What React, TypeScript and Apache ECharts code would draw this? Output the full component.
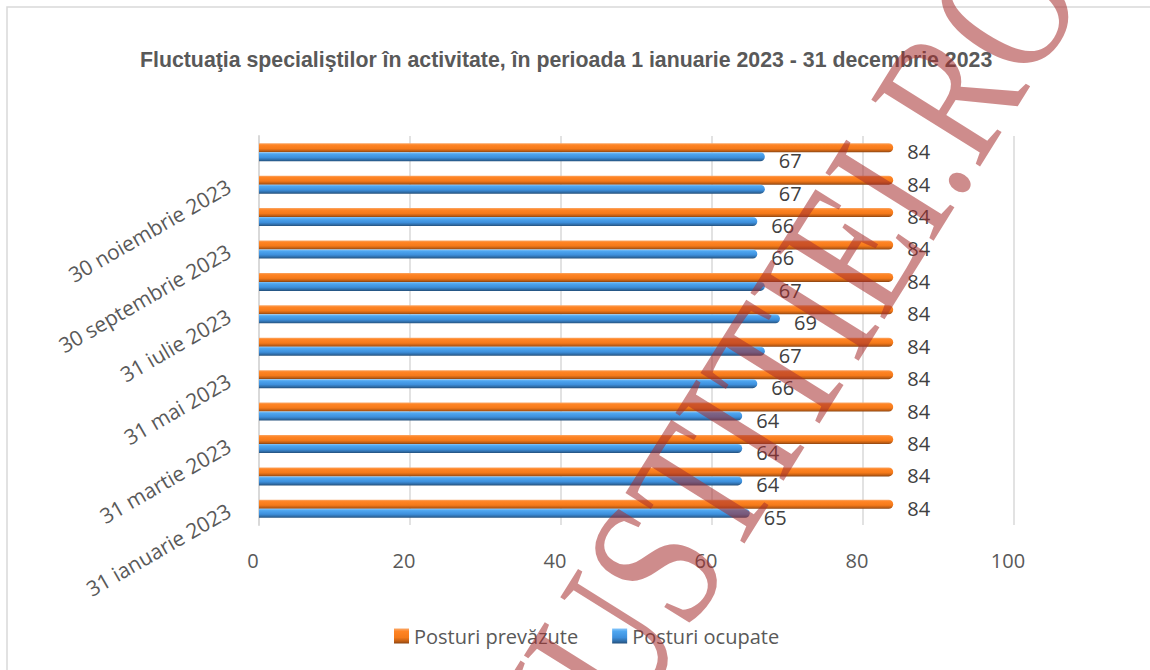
import React, { useEffect, useRef } from "react";
import * as echarts from "echarts";

const categories = [
  "31 ianuarie 2023",
  "28 februarie 2023",
  "31 martie 2023",
  "30 aprilie 2023",
  "31 mai 2023",
  "30 iunie 2023",
  "31 iulie 2023",
  "31 august 2023",
  "30 septembrie 2023",
  "31 octombrie 2023",
  "30 noiembrie 2023",
  "31 decembrie 2023",
];
const posturiPrevazute = [84, 84, 84, 84, 84, 84, 84, 84, 84, 84, 84, 84];
const posturiOcupate = [65, 64, 64, 64, 66, 67, 69, 67, 66, 66, 67, 67];
const seriesNames = ["Posturi prevăzute", "Posturi ocupate"];
const titleText =
  "Fluctuaţia specialiştilor în activitate, în perioada 1 ianuarie 2023 - 31 decembrie 2023";
const watermarkText = "JUSTITIEI.RO";

const FONT = "Open Sans";

function grad(stops: [number, string][]) {
  return new echarts.graphic.LinearGradient(
    0,
    0,
    0,
    1,
    stops.map(([offset, color]) => ({ offset, color }))
  );
}

export default function App() {
  const ref = useRef<HTMLDivElement>(null);
  useEffect(() => {
    if (!ref.current) return;
    const chart = echarts.init(ref.current, null, { renderer: "svg" });
    const orange = grad([
      [0, "#f9a868"],
      [0.2, "#ff8424"],
      [0.6, "#f57a1a"],
      [0.85, "#c05e14"],
      [1, "#8a4412"],
    ]);
    const blue = grad([
      [0, "#86c6fa"],
      [0.2, "#4ea6f0"],
      [0.6, "#3d8fdc"],
      [0.85, "#2f6ca6"],
      [1, "#234f7a"],
    ]);
    const labelCommon = {
      show: true,
      position: "right" as const,
      distance: 14,
      offset: [0, 4],
      fontSize: 20,
      fontFamily: FONT,
      color: "#404040",
    };
    chart.setOption({
      animation: false,
      backgroundColor: "#ffffff",
      title: {
        text: titleText,
        left: 140,
        top: 48,
        padding: 0,
        textStyle: {
          fontFamily: "Liberation Sans",
          fontWeight: "bold",
          fontSize: 21.3,
          lineHeight: 24,
          color: "#595959",
        },
      },
      legend: {
        left: 389,
        top: 621,
        itemWidth: 15,
        itemHeight: 15,
        itemGap: 34,
        icon: "rect",
        textStyle: { fontFamily: FONT, fontSize: 20, color: "#595959" },
        data: seriesNames,
      },
      grid: { left: 259, right: 136, top: 136, bottom: 145 },
      xAxis: {
        type: "value",
        min: 0,
        max: 100,
        interval: 20,
        axisLine: { show: false },
        axisTick: { show: false },
        axisLabel: {
          fontFamily: FONT,
          fontSize: 20,
          color: "#595959",
          margin: 25,
          padding: [0, 12, 0, 0],
        },
        splitLine: { lineStyle: { color: "#d9d9d9", width: 1.5 } },
      },
      yAxis: {
        type: "category",
        data: categories,
        axisTick: { show: false },
        axisLine: { show: true, lineStyle: { color: "#d9d9d9", width: 2 } },
        axisLabel: {
          interval: 1,
          rotate: 30,
          margin: 30,
          fontFamily: FONT,
          fontSize: 21,
          color: "#595959",
          padding: [20, 0, 0, 0],
        },
      },
      series: [
        {
          name: seriesNames[0],
          type: "bar",
          data: posturiPrevazute,
          barWidth: 9,
          barGap: "0%",
          itemStyle: { color: orange, borderRadius: [0, 5, 5, 0] },
          label: labelCommon,
        },
        {
          name: seriesNames[1],
          type: "bar",
          data: posturiOcupate,
          barWidth: 9,
          barGap: "0%",
          itemStyle: { color: blue, borderRadius: [0, 5, 5, 0] },
          label: labelCommon,
        },
      ],
      graphic: [
        {
          type: "rect",
          silent: true,
          shape: { x: 7, y: 7, width: 1300, height: 800 },
          style: { fill: "none", stroke: "#d9d9d9", lineWidth: 1.5 },
          z: 1,
        },
        {
          type: "text",
          silent: true,
          x: 788,
          y: 350,
          rotation: (58 * Math.PI) / 180,
          scaleX: 1,
          scaleY: 1.3,
          z: 200,
          style: {
            text: watermarkText,
            fontFamily: "Liberation Serif",
            fontSize: 150,
            fill: "rgba(165,45,45,0.55)",
            align: "center",
            verticalAlign: "middle",
          },
        },
      ],
    });
    return () => chart.dispose();
  }, []);
  return (
    <div
      ref={ref}
      style={{ position: "fixed", left: 0, top: 0, width: 1150, height: 670 }}
    />
  );
}
